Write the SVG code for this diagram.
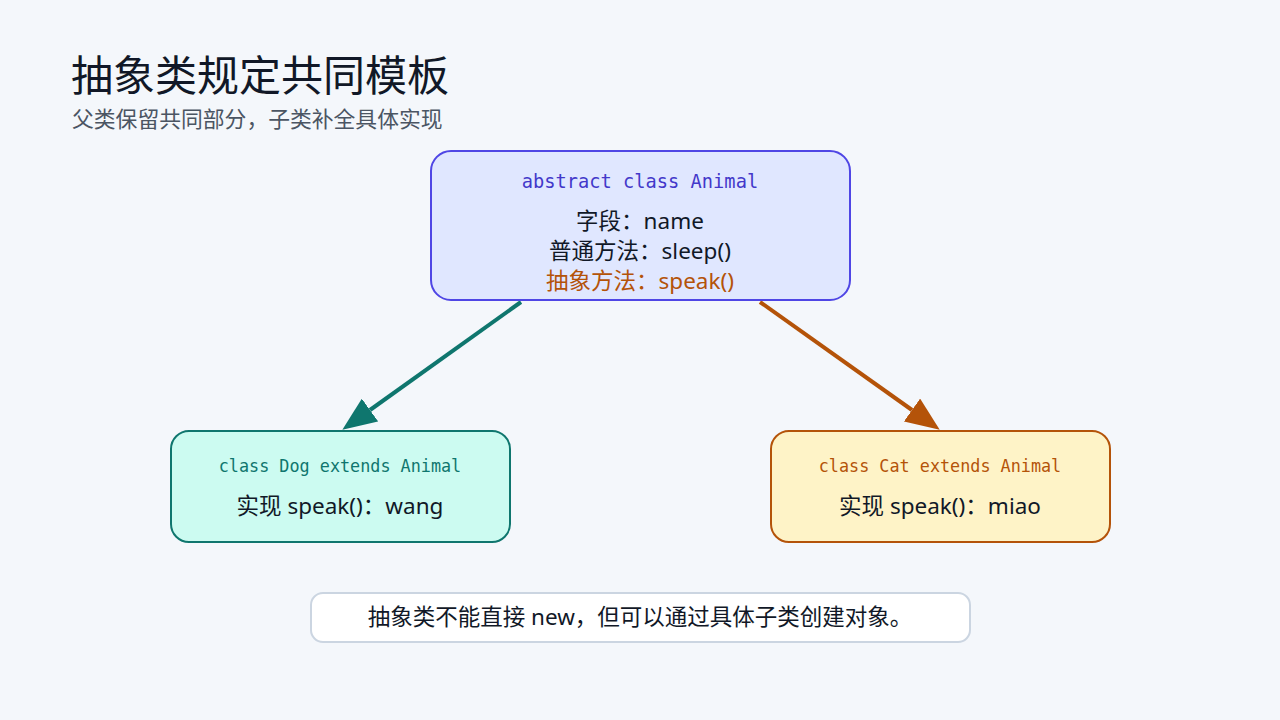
<svg xmlns="http://www.w3.org/2000/svg" width="1280" height="720" viewBox="0 0 1280 720">
  <style>
    .sans { font-family: "Noto Sans", "Noto Sans CJK SC", sans-serif; }
    .mono { font-family: "DejaVu Sans Mono", "Liberation Mono", monospace; }
    .title { font-size: 42px; fill: #111827; }
    .subtitle { font-size: 21.8px; fill: #4b5563; }
    .body { font-size: 22.5px; fill: #111827; text-anchor: middle; }
    .head { text-anchor: middle; }
    .edge { fill: none; stroke-width: 4; }
  </style>
  <defs>
    <marker id="arrowTeal" markerUnits="userSpaceOnUse" markerWidth="34" markerHeight="28" refX="0" refY="14" orient="auto">
      <path d="M0,0 L34,14 L0,28 z" fill="#0f766e"/>
    </marker>
    <marker id="arrowAmber" markerUnits="userSpaceOnUse" markerWidth="34" markerHeight="28" refX="0" refY="14" orient="auto">
      <path d="M0,0 L34,14 L0,28 z" fill="#b45309"/>
    </marker>
  </defs>

  <rect width="1280" height="720" fill="#f4f7fb"/>

  <text class="sans title" x="71" y="91">抽象类规定共同模板</text>
  <text class="sans subtitle" x="72" y="127">父类保留共同部分，子类补全具体实现</text>

  <g id="connectors">
    <path class="edge" d="M521,302 L370,410" stroke="#0f766e" marker-end="url(#arrowTeal)"/>
    <path class="edge" d="M760,302 L912,410" stroke="#b45309" marker-end="url(#arrowAmber)"/>
  </g>

  <g id="animal">
    <rect x="431" y="151" width="419" height="149" rx="20" fill="#e0e7ff" stroke="#4f46e5" stroke-width="2"/>
    <text class="mono head" x="640" y="188" font-size="18.7" fill="#4338ca">abstract class Animal</text>
    <text class="sans body" x="640" y="229">字段：name</text>
    <text class="sans body" x="640" y="259">普通方法：sleep()</text>
    <text class="sans body" x="640" y="289" style="fill:#b45309">抽象方法：speak()</text>
  </g>

  <g id="dog">
    <rect x="171" y="431" width="339" height="111" rx="18" fill="#ccfbf1" stroke="#0f766e" stroke-width="2"/>
    <text class="mono head" x="340" y="472" font-size="16.8" fill="#0f766e">class Dog extends Animal</text>
    <text class="sans body" x="340" y="514">实现 speak()：wang</text>
  </g>

  <g id="cat">
    <rect x="771" y="431" width="339" height="111" rx="18" fill="#fef3c7" stroke="#b45309" stroke-width="2"/>
    <text class="mono head" x="940" y="472" font-size="16.8" fill="#b45309">class Cat extends Animal</text>
    <text class="sans body" x="940" y="514">实现 speak()：miao</text>
  </g>

  <g id="note">
    <rect x="311" y="593" width="659" height="49" rx="12" fill="#ffffff" stroke="#cbd5e1" stroke-width="2"/>
    <text class="sans" x="640" y="625" font-size="22.5" fill="#111827" text-anchor="middle">抽象类不能直接 new，但可以通过具体子类创建对象。</text>
  </g>
</svg>
